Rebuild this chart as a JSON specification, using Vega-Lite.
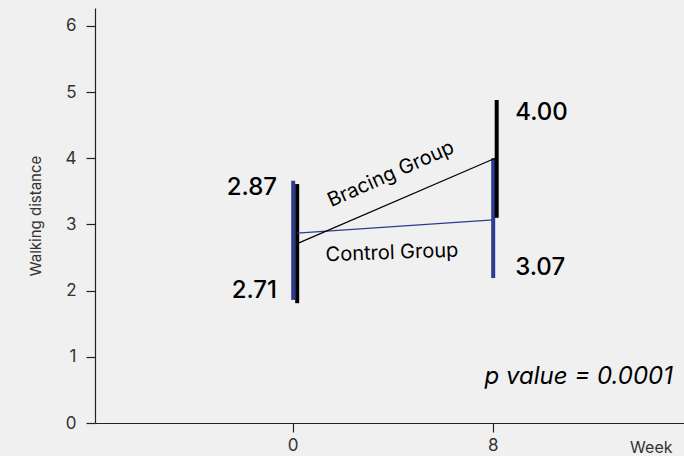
{
  "$schema": "https://vega.github.io/schema/vega-lite/v6.json",
  "width": 589,
  "height": 415,
  "autosize": {"type": "none"},
  "padding": {"left": 95, "top": 8, "right": 0, "bottom": 33},
  "background": "#f0f0f0",
  "config": {
    "view": {"stroke": null},
    "font": "Inter",
    "axis": {"grid": false, "domainColor": "#222", "tickColor": "#222", "labelColor": "#333", "titleColor": "#333", "labelFont": "Inter", "titleFont": "Inter", "titleFontWeight": "normal", "labelFontSize": 17, "titleFontSize": 15, "tickSize": 9, "domainWidth": 1.2, "tickWidth": 1.2},
    "axisX": {"labelPadding": 5, "titleX": 577, "titleY": 24, "titleAlign": "right", "titleBaseline": "middle", "titleFontSize": 16},
    "axisY": {"labelPadding": 10, "titlePadding": 22}
  },
  "datasets": {
    "bars": [
      {"group": "Control", "week": 0.02, "y": 1.86, "high": 3.66},
      {"group": "Control", "week": 8.02, "y": 2.19, "high": 4.0},
      {"group": "Bracing", "week": 0.18, "y": 1.81, "high": 3.61},
      {"group": "Bracing", "week": 8.16, "y": 3.1, "high": 4.88}
    ],
    "lines": [
      {"group": "Control", "week": 0.18, "y": 2.87},
      {"group": "Control", "week": 8.02, "y": 3.07},
      {"group": "Bracing", "week": 0.18, "y": 2.71},
      {"group": "Bracing", "week": 8.1, "y": 4.0}
    ],
    "leftLabels": [
      {"week": -0.63, "y": 3.55, "label": "2.87"},
      {"week": -0.63, "y": 2.0, "label": "2.71"}
    ],
    "rightLabels": [
      {"week": 8.9, "y": 4.68, "label": "4.00"},
      {"week": 8.9, "y": 2.34, "label": "3.07"}
    ],
    "bracingLabel": [{"week": 3.93, "y": 3.76, "label": "Bracing Group"}],
    "controlLabel": [{"week": 3.97, "y": 2.57, "label": "Control Group"}],
    "pLabel": [{"week": 15.21, "y": 0.7, "label": "p value = 0.0001"}]
  },
  "encoding": {
    "x": {"field": "week", "type": "quantitative", "scale": {"domain": [-7.908, 15.652], "nice": false, "zero": false},
      "axis": {"values": [0, 8], "title": "Week"}},
    "y": {"field": "y", "type": "quantitative", "scale": {"domain": [0, 6.27], "nice": false},
      "axis": {"values": [0, 1, 2, 3, 4, 5, 6], "title": "Walking distance"}}
  },
  "layer": [
    {
      "data": {"name": "bars"},
      "mark": {"type": "rule", "strokeWidth": 4},
      "encoding": {
        "y2": {"field": "high"},
        "color": {"field": "group", "type": "nominal", "scale": {"domain": ["Control", "Bracing"], "range": ["#2e3a8f", "#000000"]}, "legend": null}
      }
    },
    {
      "data": {"name": "lines"},
      "mark": {"type": "line", "strokeWidth": 1.2},
      "encoding": {
        "color": {"field": "group", "type": "nominal", "scale": {"domain": ["Control", "Bracing"], "range": ["#2e3a8f", "#000000"]}, "legend": null},
        "detail": {"field": "group"}
      }
    },
    {
      "data": {"name": "leftLabels"},
      "mark": {"type": "text", "align": "right", "baseline": "middle", "fontSize": 24, "fontWeight": 500, "color": "#000"},
      "encoding": {"text": {"field": "label"}}
    },
    {
      "data": {"name": "rightLabels"},
      "mark": {"type": "text", "align": "left", "baseline": "middle", "fontSize": 24, "fontWeight": 500, "color": "#000"},
      "encoding": {"text": {"field": "label"}}
    },
    {
      "data": {"name": "bracingLabel"},
      "mark": {"type": "text", "align": "center", "baseline": "middle", "fontSize": 20, "angle": 336, "color": "#000"},
      "encoding": {"text": {"field": "label"}}
    },
    {
      "data": {"name": "controlLabel"},
      "mark": {"type": "text", "align": "center", "baseline": "middle", "fontSize": 20, "angle": 358, "color": "#000"},
      "encoding": {"text": {"field": "label"}}
    },
    {
      "data": {"name": "pLabel"},
      "mark": {"type": "text", "align": "right", "baseline": "middle", "fontSize": 24, "fontStyle": "italic", "color": "#000"},
      "encoding": {"text": {"field": "label"}}
    }
  ]
}
